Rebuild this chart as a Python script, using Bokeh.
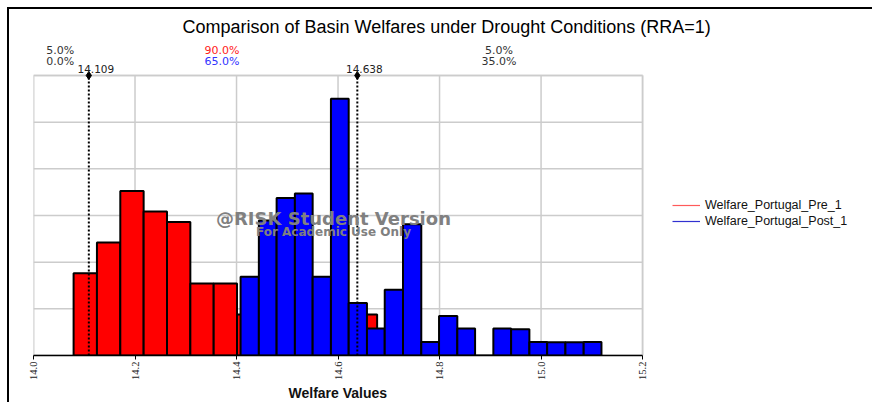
import math
from bokeh.plotting import figure
from bokeh.models import (Range1d, FixedTicker, Label, Legend, LegendItem, Title,
                          ColumnDataSource, NumeralTickFormatter, BoxAnnotation)
from bokeh.embed import file_html
from bokeh.resources import INLINE

# ---------------- data ----------------
n_iter = 100
red_edges = [14.079, 14.125, 14.171, 14.217, 14.263, 14.309, 14.355, 14.401,
             14.447, 14.493, 14.539, 14.585, 14.631, 14.677]
red_counts = [8, 11, 16, 14, 13, 7, 7, 4, 5, 4, 4, 3, 4]
blue_edges = [14.408, 14.444, 14.479, 14.515, 14.550, 14.586, 14.621, 14.657,
              14.692, 14.728, 14.764, 14.799, 14.835, 14.870, 14.906, 14.941,
              14.977, 15.012, 15.048, 15.084, 15.119]
blue_counts = [6, 10, 12, 12, 6, 19, 4, 2, 5, 10, 1, 3, 2, 0, 2, 2, 1, 1, 1, 1]
pct_values = [14.109, 14.638]
pct_value_labels = ["14.109", "14.638"]
pre_pct = ["5.0%", "90.0%", "5.0%"]
post_pct = ["0.0%", "65.0%", "35.0%"]
x_ticks = [14.0, 14.2, 14.4, 14.6, 14.8, 15.0, 15.2]
series_names = ["Welfare_Portugal_Pre_1", "Welfare_Portugal_Post_1"]
title_text = "Comparison of Basin Welfares under Drought Conditions (RRA=1)"
x_title = "Welfare Values"

# axis extents of the chart area
X0, X1 = 14.0, 15.2
Y1 = 5.922
grid_step = 0.987
# the frame is extended upwards and to the right so that the header texts and
# the legend sit inside it (annotations are clipped to the frame)
X_END = 15.653
Y_END = 7.318


def hist_source(edges, counts):
    lefts = edges[:-1]
    rights = edges[1:]
    tops = [c / (n_iter * (r - l)) for c, l, r in zip(counts, lefts, rights)]
    return ColumnDataSource(dict(left=lefts, right=rights, top=tops,
                                 bottom=[0] * len(counts)))


p = figure(width=863, height=393, output_backend="svg", toolbar_location=None,
           x_range=Range1d(X0, X_END), y_range=Range1d(0, Y_END),
           min_border_left=24, min_border_right=0, min_border_top=0,
           min_border_bottom=47, frame_width=839, frame_height=346)
p.styles = {"margin-left": "7px", "margin-top": "7px",
            "border-top": "2px solid #000", "border-left": "2px solid #000"}

p.background_fill_color = "white"
p.border_fill_color = "white"
p.outline_line_color = None

# chart-area outline
p.add_layout(BoxAnnotation(left=X0, right=X1, bottom=0, top=Y1,
                           fill_alpha=0, line_color="#a8a8a8", line_width=2,
                           level="underlay"))

# grid lines limited to the chart area
p.xgrid.grid_line_color = None
p.ygrid.grid_line_color = None
y_grid_vals = [i * grid_step for i in range(7)]
nt = len(x_ticks)
ng = len(y_grid_vals)
p.segment(x0=x_ticks, y0=[0] * nt, x1=x_ticks, y1=[Y1] * nt,
          line_color="#cccccc", line_width=1.5)
p.segment(x0=[X0] * ng, y0=y_grid_vals, x1=[X1] * ng, y1=y_grid_vals,
          line_color="#cccccc", line_width=1.5)

# axes
p.yaxis.visible = False
xa = p.xaxis[0]
xa.bounds = (X0, X1)
xa.ticker = FixedTicker(ticks=x_ticks)
xa.formatter = NumeralTickFormatter(format="0.0")
xa.major_label_orientation = math.pi / 2
xa.major_label_text_font = "Liberation Sans Narrow"
xa.major_label_text_font_size = "10.5px"
xa.major_label_text_color = "#222222"
xa.major_label_standoff = 2
xa.axis_line_color = "black"
xa.axis_line_width = 1.5
xa.major_tick_line_color = "black"
xa.major_tick_out = 4
xa.major_tick_in = 0
xa.minor_tick_line_color = None

# x-axis title, centred under the chart area
p.add_layout(Title(text=x_title, align="left", offset=255, standoff=0,
                   text_font="Liberation Sans", text_font_style="bold",
                   text_font_size="14px", text_color="#111111"), "below")

# histograms
p.quad(left="left", right="right", top="top", bottom="bottom",
       source=hist_source(red_edges, red_counts),
       fill_color="#ff0000", line_color="black", line_width=2)
p.quad(left="left", right="right", top="top", bottom="bottom",
       source=hist_source(blue_edges, blue_counts),
       fill_color="#0000ff", line_color="black", line_width=2)

# percentile lines, markers and labels
n = len(pct_values)
p.segment(x0=pct_values, y0=[0] * n, x1=pct_values, y1=[Y1] * n,
          line_color="black", line_width=2, line_dash="2 2")
p.scatter(x=pct_values, y=[Y1] * n, marker="diamond", size=8, color="black")
for v, lab in zip(pct_values, pct_value_labels):
    p.add_layout(Label(x=v, y=6.058, x_offset=7, text=lab, text_align="center",
                       text_baseline="middle", text_font="DejaVu Sans",
                       text_font_size="10.5px", text_color="#222222"))

region_bounds = [X0] + pct_values + [X1]
pre_colors = ["#333333", "#ff2020", "#333333"]
post_colors = ["#333333", "#3333ff", "#333333"]
for i in range(3):
    cx = (region_bounds[i] + region_bounds[i + 1]) / 2
    p.add_layout(Label(x=cx, y=6.451, x_offset=-1, text=pre_pct[i],
                       text_align="center", text_baseline="middle",
                       text_font="DejaVu Sans", text_font_size="11px",
                       text_color=pre_colors[i]))
    p.add_layout(Label(x=cx, y=6.218, x_offset=-1, text=post_pct[i],
                       text_align="center", text_baseline="middle",
                       text_font="DejaVu Sans", text_font_size="11px",
                       text_color=post_colors[i]))

# title
p.add_layout(Label(x=14.814, y=6.958, text=title_text, text_align="center",
                   text_baseline="middle", text_font="Liberation Sans",
                   text_font_size="18px", text_color="black"))

# watermark
p.add_layout(Label(x=14.591, y=2.904, text="@RISK Student Version",
                   text_align="center", text_baseline="middle",
                   text_font="DejaVu Sans", text_font_style="bold",
                   text_font_size="18px", text_color="#808080"))
p.add_layout(Label(x=14.591, y=2.602, text="For Academic Use Only",
                   text_align="center", text_baseline="middle",
                   text_font="DejaVu Sans", text_font_style="bold",
                   text_font_size="12px", text_color="#808080"))

# legend
nan = float("nan")
r_pre = p.line(x=[nan], y=[nan], line_color="#ff5a5a", line_width=1.2)
r_post = p.line(x=[nan], y=[nan], line_color="#3030d0", line_width=1.2)
legend = Legend(items=[LegendItem(label=series_names[0], renderers=[r_pre]),
                       LegendItem(label=series_names[1], renderers=[r_post])],
                location=(639, 126), padding=0, margin=0, spacing=0,
                glyph_width=28, glyph_height=16, label_height=16,
                label_standoff=5, label_text_font="Liberation Sans",
                label_text_font_size="12.5px", label_text_color="#111111",
                border_line_color=None, background_fill_alpha=0)
p.add_layout(legend)

open("out.html", "w").write(file_html(p, INLINE))
